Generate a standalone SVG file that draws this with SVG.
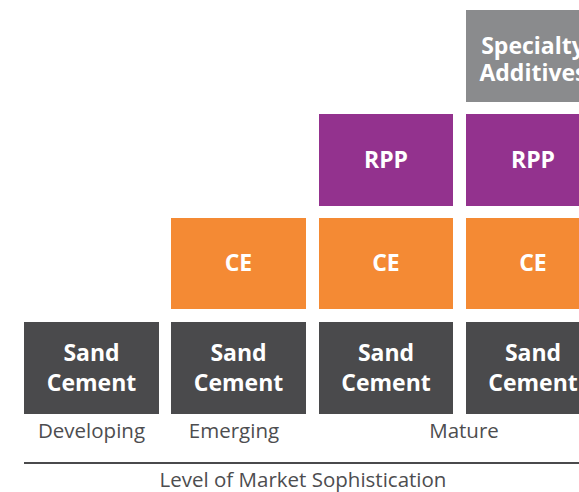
<svg xmlns="http://www.w3.org/2000/svg" width="579" height="492" viewBox="0 0 579 492">
  <style>
    .box text { font-family: "Open Sans", "Liberation Sans", sans-serif; font-weight: 700; font-size: 23px; fill: #ffffff; text-anchor: middle; }
    .sand rect { fill: #4a4a4c; }
    .ce rect { fill: #f48a34; }
    .rpp rect { fill: #93328e; }
    .spec rect { fill: #8a8b8d; }
    .label { font-family: "Open Sans", "Liberation Sans", sans-serif; font-size: 20.5px; fill: #4d4d4f; text-anchor: middle; }
  </style>
  <rect width="579" height="492" fill="#ffffff"/>

  <!-- base row: sand cement -->
  <g id="sand-developing" class="box sand"><rect x="24" y="322" width="135" height="92"/><text x="91.5" y="361">Sand</text><text x="91.5" y="391">Cement</text></g>
  <g id="sand-emerging" class="box sand"><rect x="171" y="322" width="135" height="92"/><text x="238.5" y="361">Sand</text><text x="238.5" y="391">Cement</text></g>
  <g id="sand-mature-1" class="box sand"><rect x="319" y="322" width="134" height="92"/><text x="386" y="361">Sand</text><text x="386" y="391">Cement</text></g>
  <g id="sand-mature-2" class="box sand"><rect x="466" y="322" width="134" height="92"/><text x="533" y="361">Sand</text><text x="533" y="391">Cement</text></g>

  <!-- CE row -->
  <g id="ce-emerging" class="box ce"><rect x="171" y="218" width="135" height="91"/><text x="238.5" y="271">CE</text></g>
  <g id="ce-mature-1" class="box ce"><rect x="319" y="218" width="134" height="91"/><text x="386" y="271">CE</text></g>
  <g id="ce-mature-2" class="box ce"><rect x="466" y="218" width="134" height="91"/><text x="533" y="271">CE</text></g>

  <!-- RPP row -->
  <g id="rpp-mature-1" class="box rpp"><rect x="319" y="114" width="134" height="92"/><text x="386" y="168">RPP</text></g>
  <g id="rpp-mature-2" class="box rpp"><rect x="466" y="114" width="134" height="92"/><text x="533" y="168">RPP</text></g>

  <!-- specialty additives -->
  <g id="specialty-additives" class="box spec"><rect x="466" y="10" width="134" height="92"/><text x="533" y="54">Specialty</text><text x="533" y="81">Additives</text></g>

  <!-- stage labels and axis -->
  <g id="axis">
    <text class="label" x="91.5" y="438">Developing</text>
    <text class="label" x="234" y="438">Emerging</text>
    <text class="label" x="464" y="438">Mature</text>
    <line x1="24" y1="463" x2="579" y2="463" stroke="#4a4a4c" stroke-width="2"/>
    <text class="label" x="303" y="487">Level of Market Sophistication</text>
  </g>
</svg>
